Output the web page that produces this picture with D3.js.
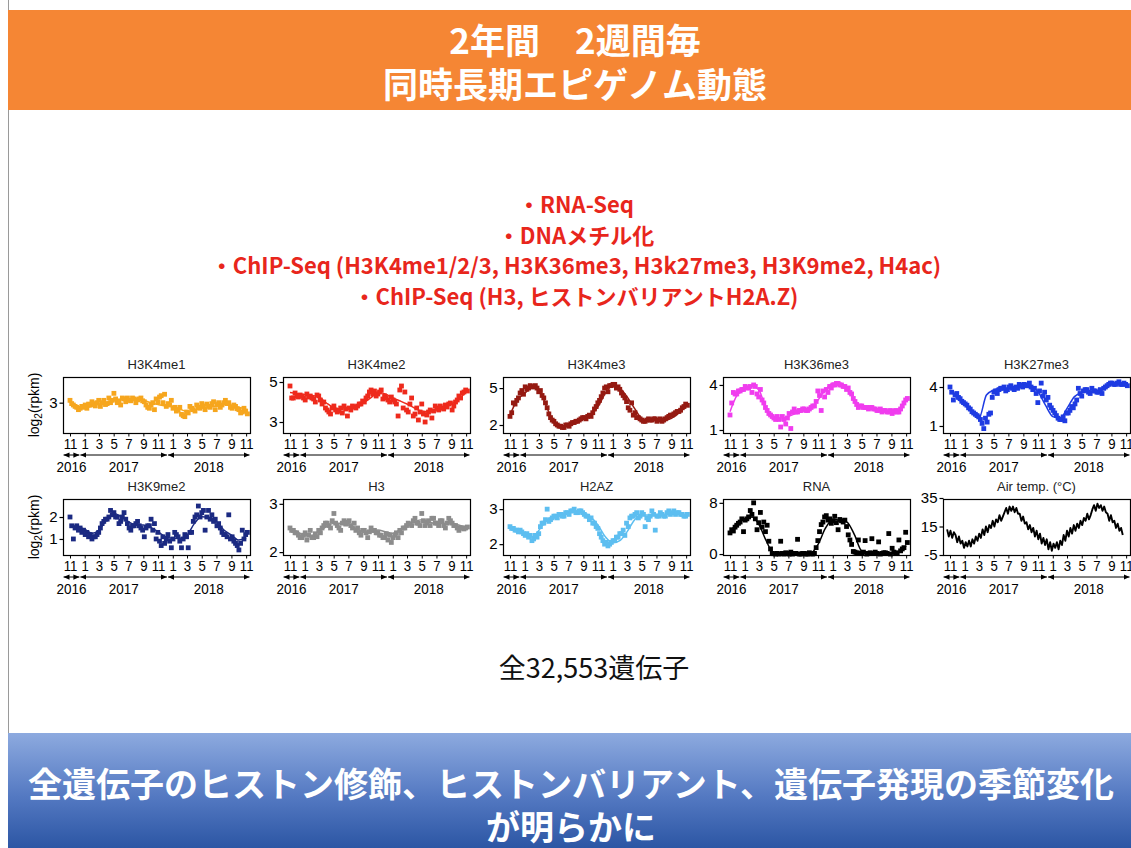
<!DOCTYPE html>
<html><head><meta charset="utf-8">
<script src="https://cdn.jsdelivr.net/npm/d3@7"></script>
<style>body{margin:0;background:#fff;} svg{display:block}</style>
</head><body>
<svg id="c" width="1131" height="848"></svg>
<script>
// ---------------- text ----------------
const titleLines = ["2年間\u30002週間毎", "同時長期エピゲノム動態"];
const methodLines = ["・RNA-Seq", "・DNAメチル化", "・ChIP-Seq (H3K4me1/2/3, H3K36me3, H3k27me3, H3K9me2, H4ac)", "・ChIP-Seq (H3, ヒストンバリアントH2A.Z)"];
const geneCountText = "全32,553遺伝子";
const conclusionLines = ["全遺伝子のヒストン修飾、ヒストンバリアント、遺伝子発現の季節変化", "が明らかに"];

// ---------------- axes ----------------
const panelNames = ["H3K4me1","H3K4me2","H3K4me3","H3K36me3","H3K27me3","H3K9me2","H3","H2AZ","RNA","Air temp. (°C)"];
const panelColors = ["#F6A61E","#EE2A1C","#951A12","#F03DEE","#1E3BE2","#1B2A82","#8C8C8C","#5DBEF0","#000000","#000000"];
const yDomains = [[2.35,3.55],[2.45,5.25],[1.35,5.9],[0.8,4.53],[0.46,4.77],[0.27,2.82],[1.94,3.1],[1.69,3.29],[-0.15,8.6],[-5,34.3]];
const yTickValues = [[3],[3,5],[2,5],[1,4],[1,4],[1,2],[2,3],[2,3],[0,8],[-5,15,35]];
const xDomain = ["2016-10-03","2018-11-17"];
const monthTicks = ["2016-11-01","2017-01-01","2017-03-01","2017-05-01","2017-07-01","2017-09-01","2017-11-01","2018-01-01","2018-03-01","2018-05-01","2018-07-01","2018-09-01","2018-11-01"];
const yearLabels = ["2016","2017","2018"];
const yearBreaks = ["2016-12-12","2017-12-10"];
const yLabelRows = [0,5];

// ---------------- data ----------------
// smoothed trend, 1st of each month, Nov 2016 .. Nov 2018
const curveStart = "2016-11-01";
const curveH3K4me1 = [2.96,2.92,2.89,2.92,2.97,3.01,3.04,3.06,3.06,3.06,3.05,3.0,2.96,2.93,2.92,2.86,2.81,2.84,2.88,2.91,2.93,2.96,2.95,2.90,2.86];
const curveH3K4me2 = [4.47,4.42,4.37,4.33,4.25,3.95,3.72,3.65,3.68,3.78,3.95,4.2,4.5,4.4,4.2,4.05,3.9,3.7,3.55,3.52,3.6,3.75,3.9,4.15,4.5];
const curveH3K4me3 = [2.81,4.03,4.57,5.06,4.9,3.49,2.27,1.86,2.0,2.27,2.54,2.81,3.49,4.57,5.16,4.95,4.3,3.35,2.54,2.35,2.4,2.35,2.54,2.95,3.76];
const curveH3K36me3 = [2.22,3.33,3.67,3.93,3.67,2.33,1.89,1.67,1.89,2.11,2.27,2.44,3.0,3.67,4.11,4.11,3.71,3.0,2.56,2.44,2.4,2.27,2.33,2.4,3.11];
const curveH3K27me3 = [3.77,3.13,2.62,2.1,1.59,3.38,3.77,3.9,3.85,4.03,4.28,4.1,3.64,2.62,1.72,1.59,2.36,3.26,3.56,3.64,3.64,3.85,4.28,4.33,4.28];
const curveH3K9me2 = [1.64,1.56,1.44,1.26,1.41,1.86,2.17,2.01,1.79,1.64,1.64,1.53,1.33,1.1,1.03,1.03,1.18,1.71,2.01,1.98,1.79,1.41,1.18,0.95,1.03];
const curveH3 = [2.49,2.42,2.35,2.35,2.42,2.53,2.6,2.6,2.56,2.49,2.42,2.44,2.46,2.42,2.39,2.46,2.56,2.63,2.67,2.63,2.58,2.6,2.58,2.56,2.51];
const curveH2AZ = [2.48,2.4,2.29,2.21,2.4,2.69,2.78,2.86,2.92,2.92,2.9,2.78,2.54,2.21,2.04,2.11,2.35,2.69,2.83,2.83,2.85,2.85,2.88,2.86,2.83];
const curveRNA = [3.4,4.9,5.5,5.8,4.6,2.0,0.1,0.0,0.05,0.0,0.0,0.1,1.5,4.0,5.4,5.3,5.0,3.0,0.5,0.3,0.2,0.1,0.1,0.3,1.3];

// biweekly samples from Nov 1 2016 (set A) and from Nov 8 2016 (set B)
const sampleStartA = "2016-11-01";
const sampleStartB = "2016-11-08";
const ptsH3K4me1 = [3.05,2.95,2.9,2.88,2.9, 2.88,2.95,2.98,3.0,2.92, 3.05,2.98,3.0,3.2,3.0, 2.95,3.08,3.1,3.04,3.08, 3.06,3.1,3.02,2.9,2.95, 2.85,3.02,3.15,3.18,2.98, 3.05,2.9,2.85,2.75,2.7, 2.78,2.88,2.82,2.9,2.98, 2.85,2.92,2.98,2.85,3.0, 2.95,3.05,3.0,2.88,2.92, 2.85,2.8,2.82];
const ptsH3K4me1B = [2.98,2.92,2.85,2.92,2.95, 2.97,3.02,2.93,3.05,3.0, 2.96,3.1,3.05,3.08,3.04, 3.1,3.02,3.05,3.1,3.0, 3.08,3.04,2.95,2.88,3.0, 3.08,3.12,3.0,2.92,2.95, 2.88,2.82,2.9,2.72,2.8, 2.92,2.85,2.95,2.88,2.93, 2.97,2.9,3.02,2.96,2.9, 3.0,2.98,2.9,2.95,2.87, 2.78,2.88,2.76];
const ptsH3K4me2 = [4.8,4.2,4.3,4.35,4.2, 4.4,4.3,4.15,4.35,4.1, 4.0,3.6,3.4,3.8,3.5, 3.7,3.8,3.3,3.6,3.75, 3.8,3.9,4.0,4.3,4.6, 4.55,4.4,4.6,4.3,4.1, 4.25,4.0,3.3,4.8,4.5, 3.5,4.2,3.4,3.1,3.9, 3.0,3.5,3.2,3.8,3.6, 3.7,3.85,3.9,3.6,4.0, 4.3,4.45,4.6];
const ptsH3K4me2B = [4.2,4.45,4.25,4.3,4.1, 4.25,4.2,4.0,4.3,3.9, 3.7,3.5,3.7,3.6,3.55, 3.45,3.65,3.7,3.8,3.7, 3.9,4.05,4.2,4.5,4.4, 4.3,4.5,4.15,4.2,4.0, 4.1,3.9,4.6,3.7,3.6, 3.9,3.3,3.7,3.5,3.4, 3.35,3.6,3.55,3.7,3.8, 3.65,3.75,3.95,3.8,4.1, 4.2,4.5,4.55];
const ptsH3K4me3 = [2.7,3.8,4.0,4.6,4.5, 4.9,5.2,5.1,5.0,4.8, 4.2,3.4,2.6,2.3,2.0, 1.9,1.8,2.0,2.1,2.2, 2.3,2.5,2.6,2.7,2.7, 3.3,3.8,4.3,5.0,4.7, 5.2,5.3,5.1,4.6,4.2, 3.4,3.8,3.0,2.6,2.4, 2.3,2.5,2.4,2.5,2.4, 2.3,2.5,2.7,2.8,3.0, 3.1,3.4,3.7];
const ptsH3K4me3B = [3.0,3.7,4.2,4.8,5.1, 5.0,5.1,5.2,4.7,4.4, 3.8,2.9,2.4,2.1,1.9, 1.8,2.0,1.9,2.2,2.3, 2.4,2.6,2.5,2.8,3.0, 3.5,4.0,4.6,5.1,5.2, 5.3,5.0,4.9,4.4,3.9, 3.2,2.8,2.6,2.5,2.3, 2.4,2.4,2.5,2.3,2.5, 2.4,2.6,2.8,2.9,3.1, 3.2,3.5,3.6];
const ptsH3K36me3 = [2.0,3.5,3.4,3.6,3.7, 3.8,3.9,4.0,3.4,3.7, 2.8,2.3,2.0,1.8,1.9, 1.2,1.7,1.8,1.1,2.4, 2.2,2.3,2.4,2.3,2.5, 2.6,3.6,2.3,3.2,3.5, 3.8,4.0,4.1,4.0,3.9, 3.8,3.4,2.9,2.5,2.6, 2.5,2.4,2.5,2.4,2.3, 2.2,2.3,2.2,2.1,2.3, 2.2,2.6,3.0];
const ptsH3K36me3B = [2.8,3.4,3.6,3.7,3.9, 3.8,3.5,3.9,3.2,3.0, 2.5,2.1,1.9,1.7,1.7, 1.9,1.4,2.1,2.2,2.2, 2.3,2.4,2.3,2.4,2.6, 2.9,3.3,3.6,3.7,3.9, 4.0,4.1,4.0,3.9,3.7, 3.5,3.1,2.7,2.6,2.5, 2.5,2.5,2.4,2.3,2.4, 2.3,2.2,2.3,2.2,2.2, 2.4,2.8,3.1];
const ptsH3K27me3 = [4.0,3.0,3.5,3.1,2.8, 2.6,2.3,2.0,1.8,1.5, 0.8,1.3,2.0,3.6,3.5, 3.9,4.0,3.8,4.1,3.8, 3.9,4.1,4.2,4.1,4.0, 3.9,2.8,4.3,3.6,3.2, 2.4,2.0,1.6,1.5,1.4, 2.0,2.5,2.7,3.9,3.3, 3.8,3.6,3.9,3.7,3.6, 3.5,4.0,4.2,4.3,4.2, 4.4,4.2,4.2];
const ptsH3K27me3B = [3.6,3.4,3.2,2.9,2.7, 2.4,2.1,1.9,1.7,1.2, 1.6,1.9,3.2,3.7,3.8, 3.9,3.7,4.0,3.9,4.0, 4.2,4.0,4.1,4.3,3.8, 3.5,3.7,3.3,3.0,2.6, 2.2,1.8,1.5,1.7,2.0, 2.2,2.4,3.0,3.5,3.7, 3.8,3.5,3.7,3.6,3.8, 3.9,4.1,4.3,4.2,4.3, 4.2,4.3,4.1];
const ptsH3K9me2 = [2.0,1.0,1.6,1.5,1.4, 1.3,1.2,1.1,1.2,1.5, 1.8,1.9,2.3,2.2,2.0, 1.8,2.2,1.7,1.4,1.6, 1.8,1.5,1.1,1.6,1.9, 1.7,1.3,0.7,0.8,1.2, 0.6,1.3,1.1,0.6,1.2, 0.6,1.3,2.0,2.5,2.2, 1.4,2.3,2.1,1.9,1.7, 1.3,1.2,2.1,1.1,0.8, 0.5,1.4,1.2];
const ptsH3K9me2B = [1.6,1.5,1.4,1.3,1.2, 1.1,1.0,1.1,1.3,1.7, 1.9,2.0,2.1,2.0,1.7, 2.0,1.9,1.5,1.6,1.7, 1.6,1.4,1.5,1.6,1.4, 1.0,0.9,1.1,1.0,0.9, 1.0,1.2,0.9,1.0,1.1, 1.3,1.8,2.1,2.0,2.3, 2.0,1.9,1.8,1.6,1.5, 1.2,1.1,1.0,0.9,0.7, 0.8,1.0,1.3];
const ptsH3 = [2.5,2.45,2.4,2.3,2.35, 2.25,2.45,2.3,2.32,2.4, 2.55,2.6,2.5,2.8,2.55, 2.45,2.65,2.62,2.55,2.6, 2.5,2.35,2.45,2.3,2.5, 2.45,2.4,2.35,2.3,2.25, 2.2,2.35,2.3,2.4,2.5, 2.6,2.55,2.7,2.6,2.8, 2.55,2.65,2.7,2.6,2.55, 2.65,2.5,2.7,2.6,2.55, 2.45,2.5,2.5];
const ptsH3B = [2.45,2.4,2.35,2.3,2.4, 2.35,2.3,2.38,2.45,2.5, 2.6,2.55,2.65,2.6,2.5, 2.6,2.58,2.65,2.5,2.45, 2.4,2.45,2.4,2.42,2.45, 2.4,2.35,2.3,2.38,2.35, 2.3,2.4,2.45,2.5,2.55, 2.58,2.65,2.6,2.55,2.65, 2.6,2.55,2.7,2.6,2.65, 2.55,2.6,2.65,2.55,2.5, 2.5,2.48,2.52];
const ptsH2AZ = [2.5,2.45,2.4,2.4,2.3, 2.3,2.25,2.15,2.2,2.5, 2.6,3.0,2.7,2.8,2.75, 2.85,2.8,2.9,2.95,3.0, 2.9,2.95,2.85,2.8,2.75, 2.6,2.45,2.2,2.0,1.95, 2.05,2.1,2.2,2.3,2.25, 2.5,2.8,2.85,2.75,2.9, 2.5,2.7,2.95,2.4,2.8, 2.85,2.8,2.95,2.9,2.85, 2.9,2.85,2.8];
const ptsH2AZB = [2.45,2.4,2.35,2.35,2.25, 2.2,2.1,2.25,2.3,2.6, 2.7,2.65,2.75,2.8,2.85, 2.8,2.9,2.85,2.95,2.9, 2.95,2.9,2.8,2.7,2.6, 2.5,2.3,2.1,2.05,2.0, 2.1,2.2,2.3,2.4,2.6, 2.75,2.8,2.9,2.8,2.85, 2.75,2.8,2.85,2.8,2.9, 2.8,2.9,2.85,2.95,2.9, 2.85,2.8,2.85];
const ptsRNA = [3.3,3.6,4.5,5.0,3.5, 5.5,6.8,8.0,3.8,6.5, 5.0,4.5,0.8,0.05,0.1, 2.0,0.0,0.1,0.3,0.1, 2.3,0.0,0.1,0.0,0.05, 0.1,2.1,4.6,5.8,5.3, 4.8,5.9,3.8,5.2,5.3, 3.0,1.5,0.3,2.2,0.2, 2.1,0.1,2.4,0.3,1.9, 0.1,0.2,3.2,0.9,0.1, 2.2,0.8,3.4];
const ptsRNAB = [3.8,4.2,4.8,5.5,5.3, 5.8,6.2,5.5,4.9,4.2, 3.5,2.0,0.1,0.0,0.0, 0.1,0.2,0.0,0.0,0.1, 0.0,0.1,0.0,0.2,0.0, 1.0,3.5,5.0,6.0,5.5, 5.2,4.9,5.4,5.0,4.3, 2.2,0.4,0.2,0.1,0.3, 0.0,0.2,0.1,0.1,0.0, 0.2,0.1,0.0,0.3,0.2, 0.5,1.0,1.8];

// weekly air temperature from Oct 20 2016
const airStart = "2016-10-20";
const airTemp = [13,8,12,7,11, 9,4,8,3, 5,0,4,1, 5,1,6,3, 8,5,10,7, 13,9,15,11,16, 14,19,15,20, 18,23,19,22, 25,28,24,29,26, 29,25,28,24, 24,19,22,17, 18,13,16,11,14, 8,12,6,10, 3,7,2,6, -1,4,-2,3,0, 4,-1,5,2, 9,5,12,8, 14,10,16,12,17, 14,19,16,21, 19,24,20,23, 27,30,26,31,28, 30,26,29,25, 24,19,23,18, 19,14,17,12,14, 9];

const curveSeries = [curveH3K4me1,curveH3K4me2,curveH3K4me3,curveH3K36me3,curveH3K27me3,curveH3K9me2,curveH3,curveH2AZ,curveRNA,null];
const pointSeriesA = [ptsH3K4me1,ptsH3K4me2,ptsH3K4me3,ptsH3K36me3,ptsH3K27me3,ptsH3K9me2,ptsH3,ptsH2AZ,ptsRNA,null];
const pointSeriesB = [ptsH3K4me1B,ptsH3K4me2B,ptsH3K4me3B,ptsH3K36me3B,ptsH3K27me3B,ptsH3K9me2B,ptsH3B,ptsH2AZB,ptsRNAB,null];

// ---------------- drawing ----------------
const parse = d3.timeParse("%Y-%m-%d");
const W = 1131, H = 848;
const svg = d3.select("#c");
const JP = "'Noto Sans CJK JP','Noto Sans',sans-serif";
const SANS = "'Liberation Sans',Arial,sans-serif";

const defs = svg.append("defs");
const grad = defs.append("linearGradient").attr("id","band").attr("x1",0).attr("y1",0).attr("x2",0).attr("y2",1);
grad.append("stop").attr("offset",0).attr("stop-color","#8DAADF");
grad.append("stop").attr("offset",0.55).attr("stop-color","#5479C2");
grad.append("stop").attr("offset",1).attr("stop-color","#2C56A4");
defs.append("marker").attr("id","arr").attr("viewBox","0 0 8 8").attr("refX",8).attr("refY",4)
  .attr("markerWidth",6).attr("markerHeight",6).attr("markerUnits","userSpaceOnUse").attr("orient","auto-start-reverse")
  .append("path").attr("d","M0,0.5L8,4L0,7.5Z").attr("fill","#000");

svg.append("rect").attr("width",W).attr("height",H).attr("fill","#fff");
svg.append("line").attr("x1",8.5).attr("x2",8.5).attr("y1",0).attr("y2",H).attr("stroke","#9a9a9a");

// header
svg.append("rect").attr("x",8).attr("y",10).attr("width",W-8).attr("height",100).attr("fill","#F58634");
svg.selectAll("text.title").data(titleLines).join("text").attr("class","title")
  .attr("x",575).attr("y",(d,i)=>54+i*44).attr("text-anchor","middle")
  .attr("font-family",JP).attr("font-weight",700).attr("font-size",35).attr("fill","#fff").text(d=>d);

// method list
svg.selectAll("text.meth").data(methodLines).join("text").attr("class","meth")
  .attr("x",576).attr("y",(d,i)=>213+i*30.7).attr("text-anchor","middle")
  .attr("font-family",JP).attr("font-weight",700).attr("font-size",22).attr("fill","#E8261C").text(d=>d);

// gene count
svg.append("text").attr("x",594).attr("y",678).attr("text-anchor","middle")
  .attr("font-family",JP).attr("font-size",27).attr("fill","#111").text(geneCountText);

// bottom band
svg.append("rect").attr("x",8).attr("y",733).attr("width",W-8).attr("height",H-733).attr("fill","url(#band)");
svg.selectAll("text.concl").data(conclusionLines).join("text").attr("class","concl")
  .attr("x",571).attr("y",(d,i)=>797+i*43).attr("text-anchor","middle")
  .attr("font-family",JP).attr("font-weight",700).attr("font-size",34).attr("fill","#fff").text(d=>d);

// panels
const colX0 = 63, colStep = 220, boxW = 187, boxH = 56, rowTops = [377, 499];
const tickDates = monthTicks.map(parse);
panelNames.forEach((name,k)=>{
  const col = k%5, row = Math.floor(k/5);
  const L = colX0 + col*colStep, T = rowTops[row];
  const color = panelColors[k];
  const x = d3.scaleTime().domain(xDomain.map(parse)).range([L, L+boxW]);
  const y = d3.scaleLinear().domain(yDomains[k]).range([T+boxH, T]);
  const g = svg.append("g");

  if (pointSeriesA[k]) {
    const sA = parse(sampleStartA), sB = parse(sampleStartB);
    const pts = pointSeriesA[k].map((v,i)=>({d:d3.timeDay.offset(sA,14*i), v}))
      .concat(pointSeriesB[k].map((v,i)=>({d:d3.timeDay.offset(sB,14*i), v})));
    g.selectAll("rect.pt").data(pts).join("rect").attr("class","pt")
      .attr("x",d=>x(d.d)-2.4).attr("y",d=>y(d.v)-2.4).attr("width",4.8).attr("height",4.8).attr("fill",color);
    const c0 = parse(curveStart);
    const cv = curveSeries[k].map((v,i)=>({d:d3.timeMonth.offset(c0,i), v}));
    g.append("path").datum(cv).attr("fill","none").attr("stroke",color).attr("stroke-width",1.5)
      .attr("d", d3.line().x(d=>x(d.d)).y(d=>y(d.v)).curve(d3.curveMonotoneX));
  } else {
    const a0 = parse(airStart);
    const tv = airTemp.map((v,i)=>({d:d3.timeDay.offset(a0,7*i), v}));
    g.append("path").datum(tv).attr("fill","none").attr("stroke",color).attr("stroke-width",1.9)
      .attr("stroke-linejoin","round")
      .attr("d", d3.line().x(d=>x(d.d)).y(d=>y(d.v)));
  }

  g.append("rect").attr("x",L+0.5).attr("y",T+0.5).attr("width",boxW).attr("height",boxH)
    .attr("fill","none").attr("stroke","#000").attr("stroke-width",1.2);

  // title
  g.append("text").attr("x",L+boxW/2).attr("y",T-8).attr("text-anchor","middle")
    .attr("font-family",SANS).attr("font-size",13).attr("fill","#222").text(name);

  // y axis
  const ya = g.append("g").attr("transform",`translate(${L+0.5},0)`)
    .call(d3.axisLeft(y).tickValues(yTickValues[k]).tickSize(4).tickPadding(2).tickFormat(d=>String(d)));
  ya.select(".domain").remove();
  ya.selectAll("text").attr("font-family",SANS).attr("font-size",15).attr("fill","#000");
  ya.selectAll("line").attr("stroke","#000").attr("stroke-width",1.2);

  // x axis
  const xa = g.append("g").attr("transform",`translate(0,${T+boxH+0.5})`)
    .call(d3.axisBottom(x).tickValues(tickDates).tickSize(3).tickPadding(2).tickFormat(d=>d.getMonth()+1));
  xa.select(".domain").remove();
  xa.selectAll("text").attr("font-family",SANS).attr("font-size",15).attr("fill","#000").attr("transform","scale(0.88,1)");
  xa.selectAll("line").attr("stroke","#000");

  // year arrows
  const b = [x.range()[0], ...yearBreaks.map(s=>x(parse(s))), x.range()[1]];
  const ay = T+boxH+22;
  yearLabels.forEach((yl,j)=>{
    g.append("line").attr("x1",b[j]+0.5).attr("x2",b[j+1]-0.5).attr("y1",ay).attr("y2",ay)
      .attr("stroke","#000").attr("stroke-width",1)
      .attr("marker-start","url(#arr)").attr("marker-end","url(#arr)");
    g.append("text").attr("transform",`translate(${(b[j]+b[j+1])/2},${T+boxH+39}) scale(0.9,1)`)
      .attr("text-anchor","middle").attr("font-family",SANS).attr("font-size",15).attr("fill","#000").text(yl);
  });

  // y label
  if (yLabelRows.includes(k)) {
    const t = g.append("text").attr("transform",`translate(39,${T+boxH/2}) rotate(-90)`)
      .attr("text-anchor","middle").attr("font-family",SANS).attr("font-size",14).attr("fill","#000");
    t.append("tspan").text("log");
    t.append("tspan").attr("font-size",10).attr("dy",3).text("2");
    t.append("tspan").attr("dy",-3).text("(rpkm)");
  }
});
</script>
</body></html>
